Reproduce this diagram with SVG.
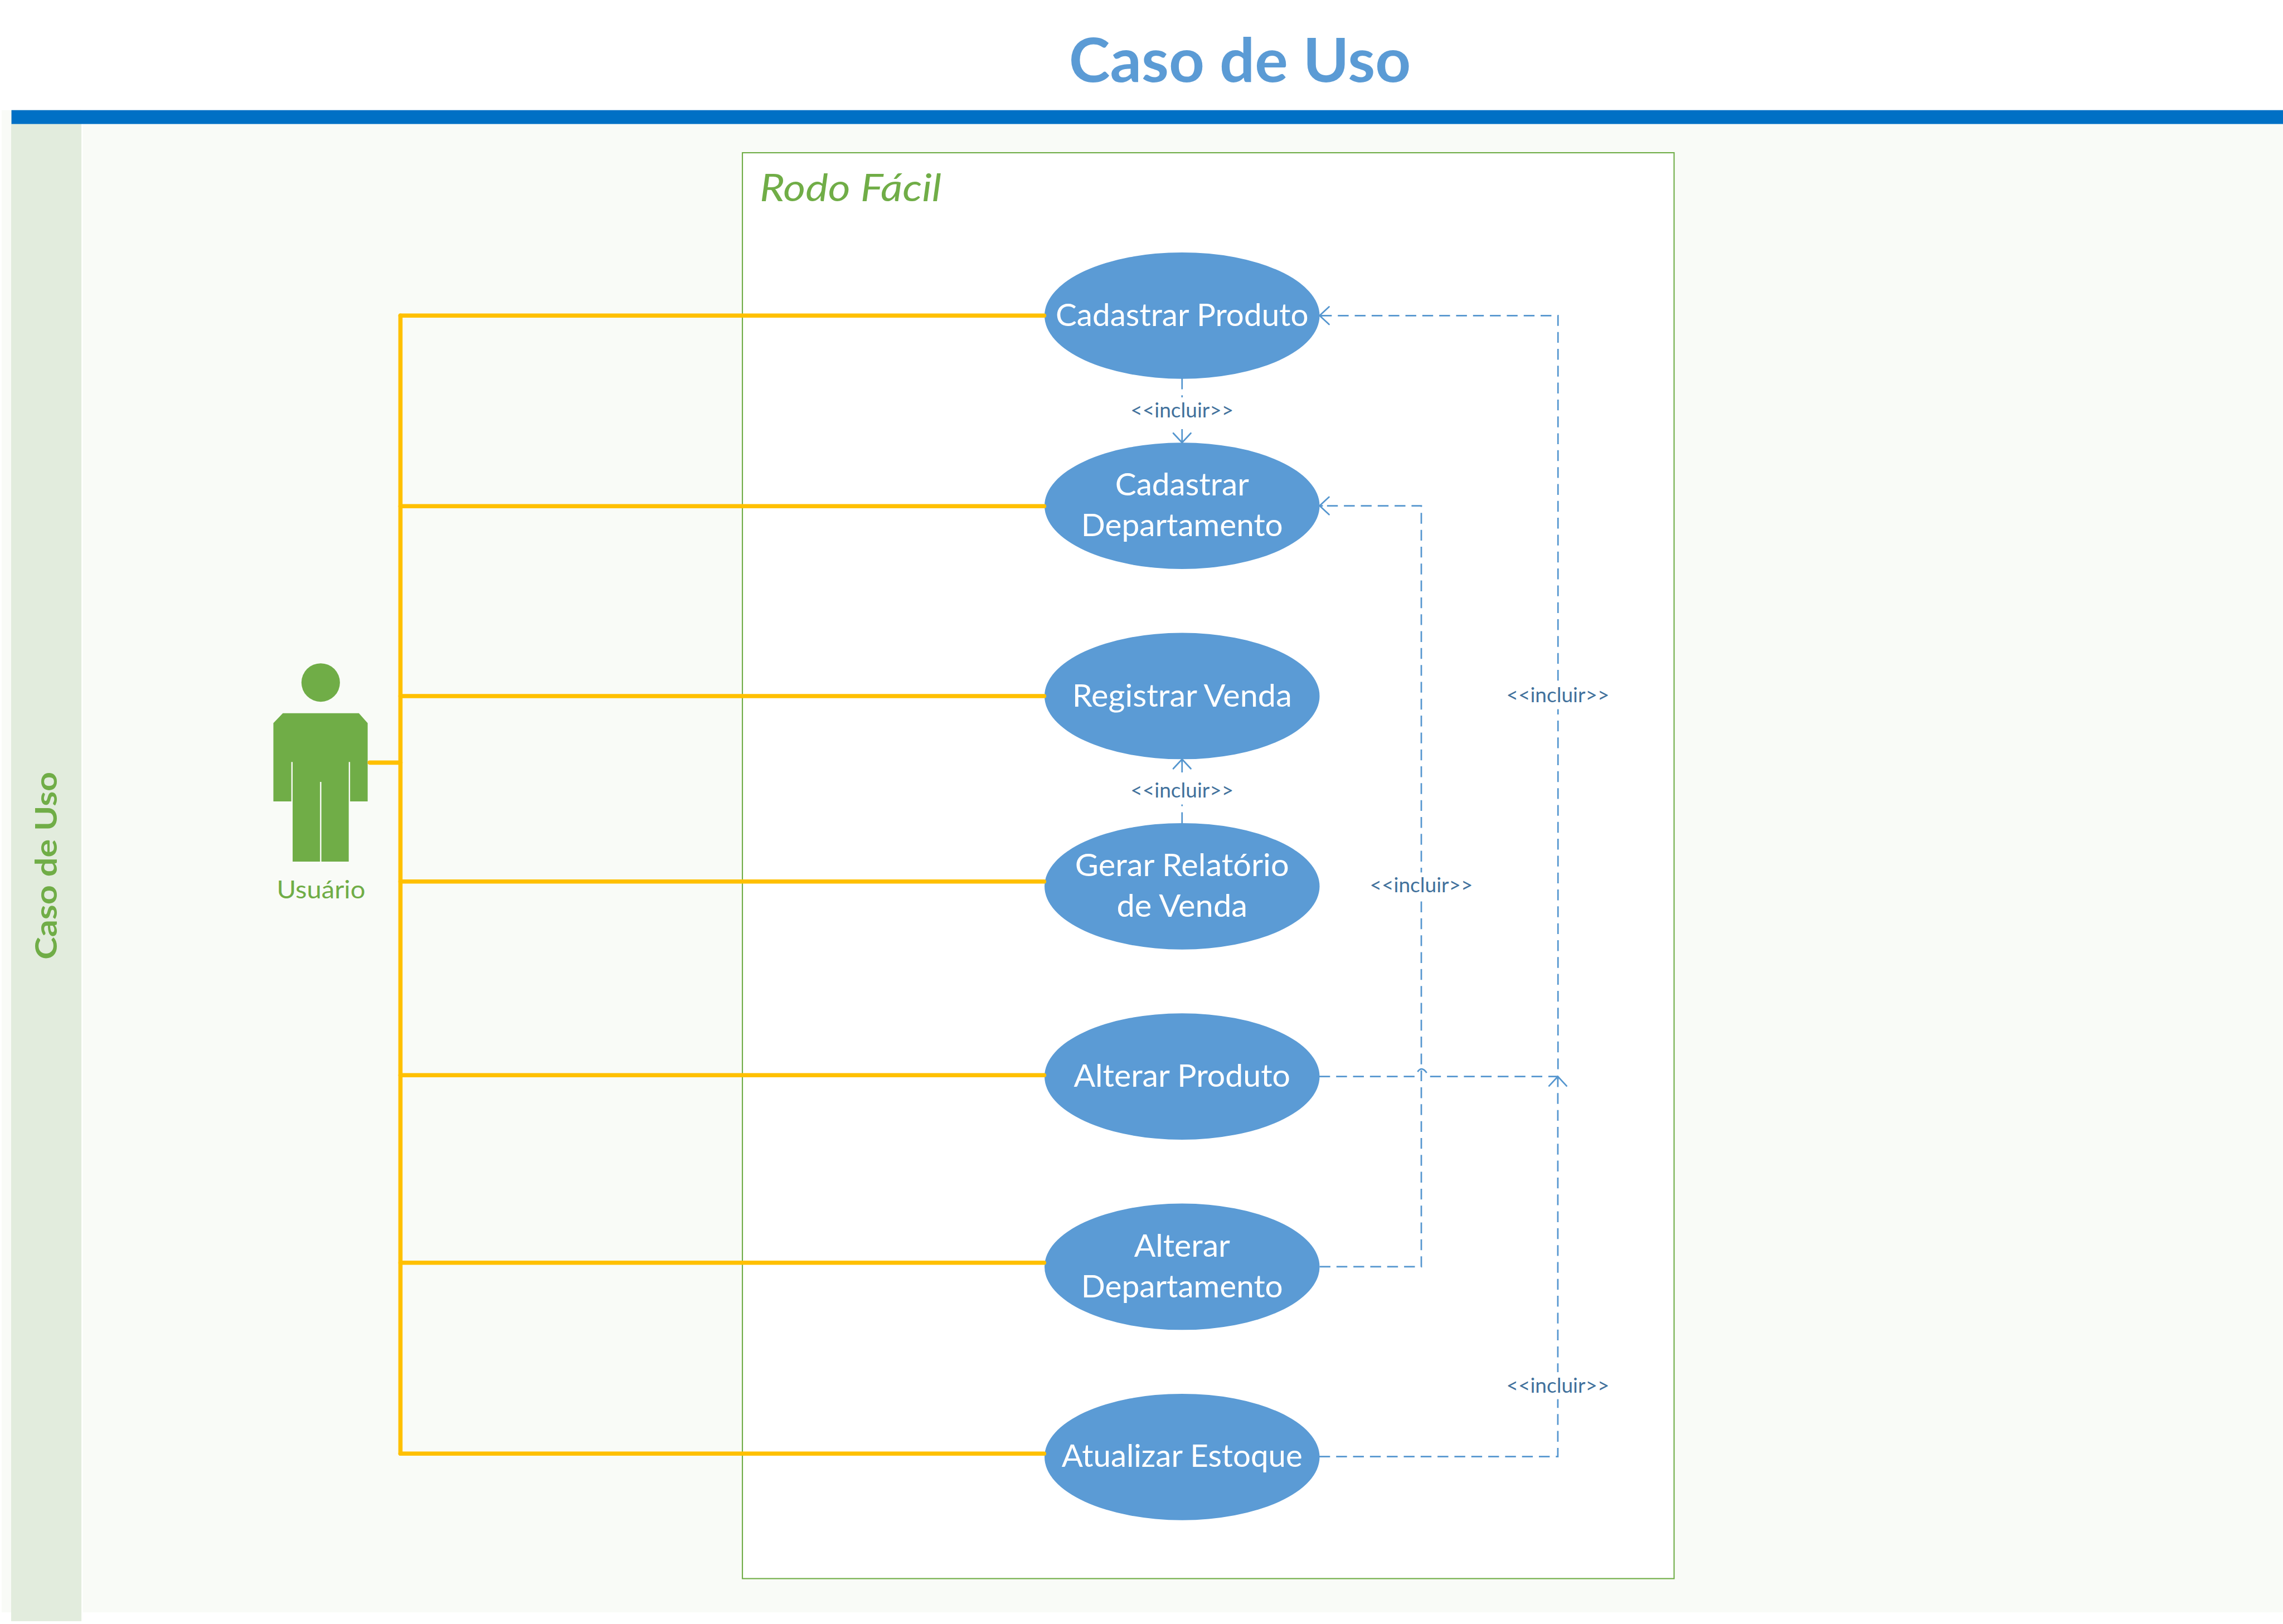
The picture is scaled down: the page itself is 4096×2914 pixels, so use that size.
<svg xmlns="http://www.w3.org/2000/svg" width="4096" height="2914" viewBox="0 0 4096 2914">
<style>
text{font-family:"Lato","Liberation Sans",sans-serif}
.uc{fill:#5b9bd5}
.uct{fill:#fff;font-size:91px;text-anchor:middle}
.lbl{fill:#41719c;font-size:60px;text-anchor:middle}
.ass{fill:none;stroke:#ffc000;stroke-width:12.5;stroke-linecap:round;stroke-linejoin:round}
.inc{fill:none;stroke:#5596cf;stroke-width:4.5;stroke-dasharray:32 18}
.act{fill:#70ad47}
</style>
<defs>
<marker id="open" markerUnits="userSpaceOnUse" markerWidth="60" markerHeight="60" refX="0" refY="0" viewBox="-40 -30 50 60" orient="auto-start-reverse" overflow="visible">
<path d="M-28,-26 L0,0 L-28,26 M-8,0 H0" fill="none" stroke="#5596cf" stroke-width="4.5" stroke-linecap="round"/>
</marker>
</defs>
<rect width="4096" height="2914" fill="#fff"/>
<g transform="scale(0.60628)">
<g id="background">
<rect x="5" y="326" width="6751" height="4446" fill="#f9fbf7"/>
<rect x="33" y="326" width="4" height="4472" fill="#fff"/>
<rect x="241" y="367" width="4" height="4405" fill="#fff"/>
<rect x="33" y="326" width="208" height="4472" fill="#e2ecdd"/>
<rect x="34" y="326" width="6722" height="41" fill="#0070c5"/>
<text x="3669" y="242" font-size="180" font-weight="700" fill="#5b9bd5" text-anchor="middle" textLength="1012" lengthAdjust="spacingAndGlyphs">Caso de Uso</text>
<text transform="translate(168 2840) rotate(-90)" font-size="89" font-weight="700" fill="#70ad47" textLength="556" lengthAdjust="spacingAndGlyphs">Caso de Uso</text>
</g>
<g id="system-boundary">
<rect x="2197" y="452" width="2757" height="4220" fill="#fff" stroke="#70ad47" stroke-width="3.5"/>
<text x="2248" y="595" font-size="113" font-style="italic" fill="#70ad47" textLength="538" lengthAdjust="spacingAndGlyphs">Rodo Fácil</text>
</g>
<g id="actor-usuario">
<circle class="act" cx="949" cy="2020" r="57"/>
<path class="act" d="M837,2111 H1062 L1088,2140 V2372 H1036 V2255 H1032 V2550 H951 V2314 H947 V2550 H866 V2255 H862 V2372 H809 V2140 Z"/>
<text x="950" y="2659" font-size="73" fill="#70ad47" text-anchor="middle" textLength="262" lengthAdjust="spacingAndGlyphs">Usuário</text>
</g>
<g id="uc-cadastrar-produto">
<ellipse class="uc" cx="3498" cy="934" rx="407" ry="187"/>
<text class="uct" x="3498" y="965" textLength="748" lengthAdjust="spacingAndGlyphs">Cadastrar Produto</text>
</g>
<g id="uc-cadastrar-departamento">
<ellipse class="uc" cx="3498" cy="1497" rx="407" ry="187"/>
<text class="uct" x="3498" y="1467" textLength="396" lengthAdjust="spacingAndGlyphs">Cadastrar</text>
<text class="uct" x="3498" y="1587" textLength="597" lengthAdjust="spacingAndGlyphs">Departamento</text>
</g>
<g id="uc-registrar-venda">
<ellipse class="uc" cx="3498" cy="2060" rx="407" ry="187"/>
<text class="uct" x="3498" y="2091" textLength="650" lengthAdjust="spacingAndGlyphs">Registrar Venda</text>
</g>
<g id="uc-gerar-relatorio">
<ellipse class="uc" cx="3498" cy="2623" rx="407" ry="187"/>
<text class="uct" x="3498" y="2593" textLength="633" lengthAdjust="spacingAndGlyphs">Gerar Relatório</text>
<text class="uct" x="3498" y="2713" textLength="387" lengthAdjust="spacingAndGlyphs">de Venda</text>
</g>
<g id="uc-alterar-produto">
<ellipse class="uc" cx="3498" cy="3186" rx="407" ry="187"/>
<text class="uct" x="3498" y="3217" textLength="641" lengthAdjust="spacingAndGlyphs">Alterar Produto</text>
</g>
<g id="uc-alterar-departamento">
<ellipse class="uc" cx="3498" cy="3749" rx="407" ry="187"/>
<text class="uct" x="3498" y="3719" textLength="284" lengthAdjust="spacingAndGlyphs">Alterar</text>
<text class="uct" x="3498" y="3839" textLength="597" lengthAdjust="spacingAndGlyphs">Departamento</text>
</g>
<g id="uc-atualizar-estoque">
<ellipse class="uc" cx="3498" cy="4312" rx="407" ry="187"/>
<text class="uct" x="3498" y="4342" textLength="713" lengthAdjust="spacingAndGlyphs">Atualizar Estoque</text>
</g>
<g id="connectors">
<path class="ass" d="M1185,934 V4302"/>
<path class="ass" d="M1094,2257 H1185"/>
<path class="ass" d="M1185,934 H3090"/>
<path class="ass" d="M1185,1498 H3090"/>
<path class="ass" d="M1185,2060 H3090"/>
<path class="ass" d="M1185,2609 H3090"/>
<path class="ass" d="M1185,3182 H3090"/>
<path class="ass" d="M1185,3737 H3090"/>
<path class="ass" d="M1185,4302 H3090"/>
<path class="inc" stroke-dashoffset="46" marker-start="url(#open)" d="M3905,934 H4610.5 V3180"/>
<path class="inc" stroke-dashoffset="28" marker-start="url(#open)" d="M3905,1497 H4206 V3749 H3905"/>
<path class="inc" d="M3904,3186 H4187"/>
<path class="inc" d="M4232,3186 H4610"/>
<path fill="none" stroke="#5596cf" stroke-width="4.5" d="M4195,3172 Q4207,3154 4222,3175"/>
<path class="inc" marker-end="url(#open)" d="M3904,4311 H4610 V3186"/>
<path class="inc" marker-end="url(#open)" d="M3498,1120 V1310"/>
<path class="inc" marker-end="url(#open)" d="M3498,2436 V2247"/>
<rect x="3345" y="1176" width="306" height="86" fill="#fff"/>
<text class="lbl" x="3498" y="1235" textLength="305" lengthAdjust="spacingAndGlyphs">&lt;&lt;incluir&gt;&gt;</text>
<rect x="3345" y="2297" width="306" height="84" fill="#fff"/>
<text class="lbl" x="3498" y="2360" textLength="305" lengthAdjust="spacingAndGlyphs">&lt;&lt;incluir&gt;&gt;</text>
<rect x="4457" y="2017" width="306" height="82" fill="#fff"/>
<text class="lbl" x="4610" y="2079" textLength="305" lengthAdjust="spacingAndGlyphs">&lt;&lt;incluir&gt;&gt;</text>
<rect x="4053" y="2582" width="306" height="85" fill="#fff"/>
<text class="lbl" x="4206" y="2641" textLength="305" lengthAdjust="spacingAndGlyphs">&lt;&lt;incluir&gt;&gt;</text>
<rect x="4457" y="4061" width="306" height="80" fill="#fff"/>
<text class="lbl" x="4610" y="4122" textLength="305" lengthAdjust="spacingAndGlyphs">&lt;&lt;incluir&gt;&gt;</text>
</g>
</g>
</svg>
